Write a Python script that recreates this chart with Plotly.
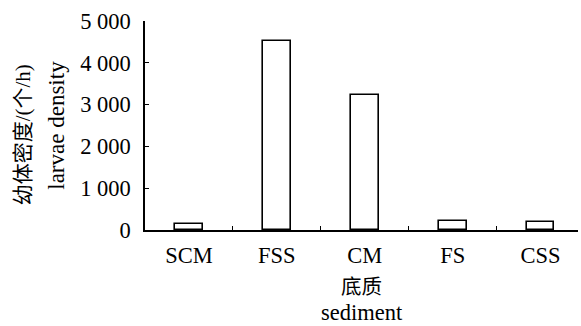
import plotly.graph_objects as go

# Larval density by sediment type
sediments = ["SCM", "FSS", "CM", "FS", "CSS"]
density = [155, 4510, 3240, 225, 200]

y_ticks = [0, 1000, 2000, 3000, 4000, 5000]
y_tick_text = ["0", "1 000", "2 000", "3 000", "4 000", "5 000"]

x_positions = list(range(len(sediments)))
x_end = 4.426
boundary_ticks = [0.5, 1.5, 2.5, 3.5, 4.425]

FONT = "Liberation Serif, Noto Sans CJK SC"

fig = go.Figure()
fig.add_trace(go.Bar(
    x=x_positions,
    y=density,
    width=0.315,
    marker=dict(color="white", line=dict(color="black", width=1.6)),
    showlegend=False,
))
# invisible trace that carries the secondary x axis with boundary ticks
fig.add_trace(go.Scatter(x=[x_positions[0]], y=[0], xaxis="x2", mode="markers",
                         marker=dict(opacity=0), showlegend=False, hoverinfo="skip"))

fig.update_layout(
    width=581, height=326,
    margin=dict(l=144.5, r=3, t=20.7, b=95.7),
    paper_bgcolor="white", plot_bgcolor="white",
    font=dict(family=FONT, size=22, color="black"),
    xaxis=dict(
        range=[-0.5, x_end], tickvals=x_positions, ticktext=sediments,
        ticks="", showline=True, linecolor="black", linewidth=1.5,
        showgrid=False, zeroline=False, ticklabelstandoff=4,
        tickfont=dict(family=FONT, size=22.5),
    ),
    xaxis2=dict(
        range=[-0.5, x_end], overlaying="x", anchor="y", side="bottom",
        tickvals=boundary_ticks, ticks="inside", ticklen=4, tickwidth=1.3,
        tickcolor="black", showticklabels=False, showline=False,
        showgrid=False, zeroline=False,
    ),
    yaxis=dict(
        range=[0, 5000], tickvals=y_ticks, ticktext=y_tick_text,
        ticks="inside", ticklen=4, tickwidth=1.3, tickcolor="black",
        showline=True, linecolor="black", linewidth=1.5,
        showgrid=False, zeroline=False, ticklabelstandoff=8,
        tickfont=dict(family=FONT, size=22.5),
    ),
    bargap=0,
)

fig.add_annotation(text="幼体密度/(个/h)", xref="paper", yref="paper",
                   x=-0.283, y=0.455, textangle=-90, showarrow=False,
                   xanchor="center", yanchor="middle",
                   font=dict(family=FONT, size=21))
fig.add_annotation(text="larvae density", xref="paper", yref="paper",
                   x=-0.205, y=0.5, textangle=-90, showarrow=False,
                   xanchor="center", yanchor="middle",
                   font=dict(family=FONT, size=23))
fig.add_annotation(text="底质", xref="paper", yref="paper",
                   x=0.5, y=-0.272, showarrow=False,
                   xanchor="center", yanchor="middle",
                   font=dict(family=FONT, size=20.5))
fig.add_annotation(text="sediment", xref="paper", yref="paper",
                   x=0.5, y=-0.395, showarrow=False,
                   xanchor="center", yanchor="middle",
                   font=dict(family=FONT, size=22.5))

fig.write_html("out.html")
